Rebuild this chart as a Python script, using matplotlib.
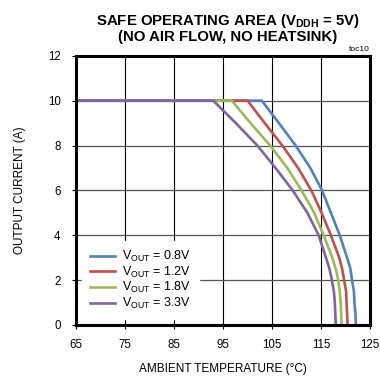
import matplotlib
matplotlib.use('Agg') # no display
import matplotlib.pyplot as plt # import plotting library

plt.rcParams['font.family'] = 'Liberation Sans' # arial-like font
plt.rcParams['mathtext.fontset'] = 'custom' # mathtext follows the text font
plt.rcParams['mathtext.rm'] = 'Liberation Sans'
plt.rcParams['mathtext.bf'] = 'Liberation Sans:bold'

# output current levels (A), shared by all curves
current = [10, 10, 9, 8, 7, 6, 5, 4, 3, 2.5, 2, 1.5, 1, 0.5, 0]

# ambient temperature (C) for each current level
temp_08 = [65, 102.9, 106.4, 109.8, 112.8, 115.2, 117.0, 118.8, 120.3, 121.0, 121.3, 121.7, 121.8, 122.0, 122.1]
temp_12 = [65, 100.0, 103.5, 107.1, 110.3, 113.0, 115.1, 117.0, 118.7, 119.3, 119.7, 120.1, 120.2, 120.3, 120.4]
temp_18 = [65, 96.8, 100.6, 104.6, 108.1, 111.0, 113.6, 115.5, 117.3, 118.0, 118.5, 118.8, 119.0, 119.1, 119.2]
temp_33 = [65, 93.0, 97.6, 102.0, 105.7, 109.2, 112.2, 114.5, 116.0, 116.7, 117.2, 117.6, 117.8, 117.9, 118.0]

labels = ['0.8V', '1.2V', '1.8V', '3.3V'] # output voltages
colors = ['#4F81BD', '#C0504D', '#9BBB59', '#8064A2'] # excel style colours

x_ticks = [65, 75, 85, 95, 105, 115, 125]
y_ticks = [0, 2, 4, 6, 8, 10, 12]

fig = plt.figure(figsize=(3.8, 3.77), dpi=100) # 380 x 377 px
ax = fig.add_axes([0.2, 0.138, 0.774, 0.714]) # plot area

for temps, lab, col in zip([temp_08, temp_12, temp_18, temp_33], labels, colors): # one curve per voltage
    ax.plot(temps, current, color=col, linewidth=1.9, solid_joinstyle='round',
            label='V$_\\mathrm{OUT}$ = ' + lab)

ax.set_xlim(65, 125)
ax.set_ylim(0, 12)
ax.set_xticks(x_ticks)
ax.set_yticks(y_ticks)
ax.tick_params(labelsize=8.3, length=3, width=0.8, direction='out')
ax.tick_params(axis='y', pad=8)
ax.tick_params(axis='x', pad=7)

ax.xaxis.grid(True, color='black', linewidth=0.8) # vertical grid lines
ax.yaxis.grid(True, color='#555555', linewidth=0.9) # horizontal grid lines
ax.set_axisbelow(True)
for s in ax.spines.values(): # heavy frame
    s.set_linewidth(2.2)

ax.set_xlabel('AMBIENT TEMPERATURE (°C)', fontsize=8.5, labelpad=9)
ax.set_ylabel('OUTPUT CURRENT (A)', fontsize=8.5, labelpad=16)

fig.text(0.6, 0.968, 'SAFE OPERATING AREA (V$_\\mathbf{DDH}$ = 5V)\n(NO AIR FLOW, NO HEATSINK)',
         ha='center', va='top', fontsize=10.8, fontweight='bold', linespacing=0.95)
fig.text(0.972, 0.86, 'toc10', ha='right', va='bottom', fontsize=6)

leg = ax.legend(loc='lower left', bbox_to_anchor=(0.0, 0.0), fontsize=9, handlelength=2.0,
                labelspacing=0.05, borderpad=0.6, handletextpad=0.6, fancybox=False,
                framealpha=1, edgecolor='white')

plt.savefig('out.png', dpi=100) # save output
